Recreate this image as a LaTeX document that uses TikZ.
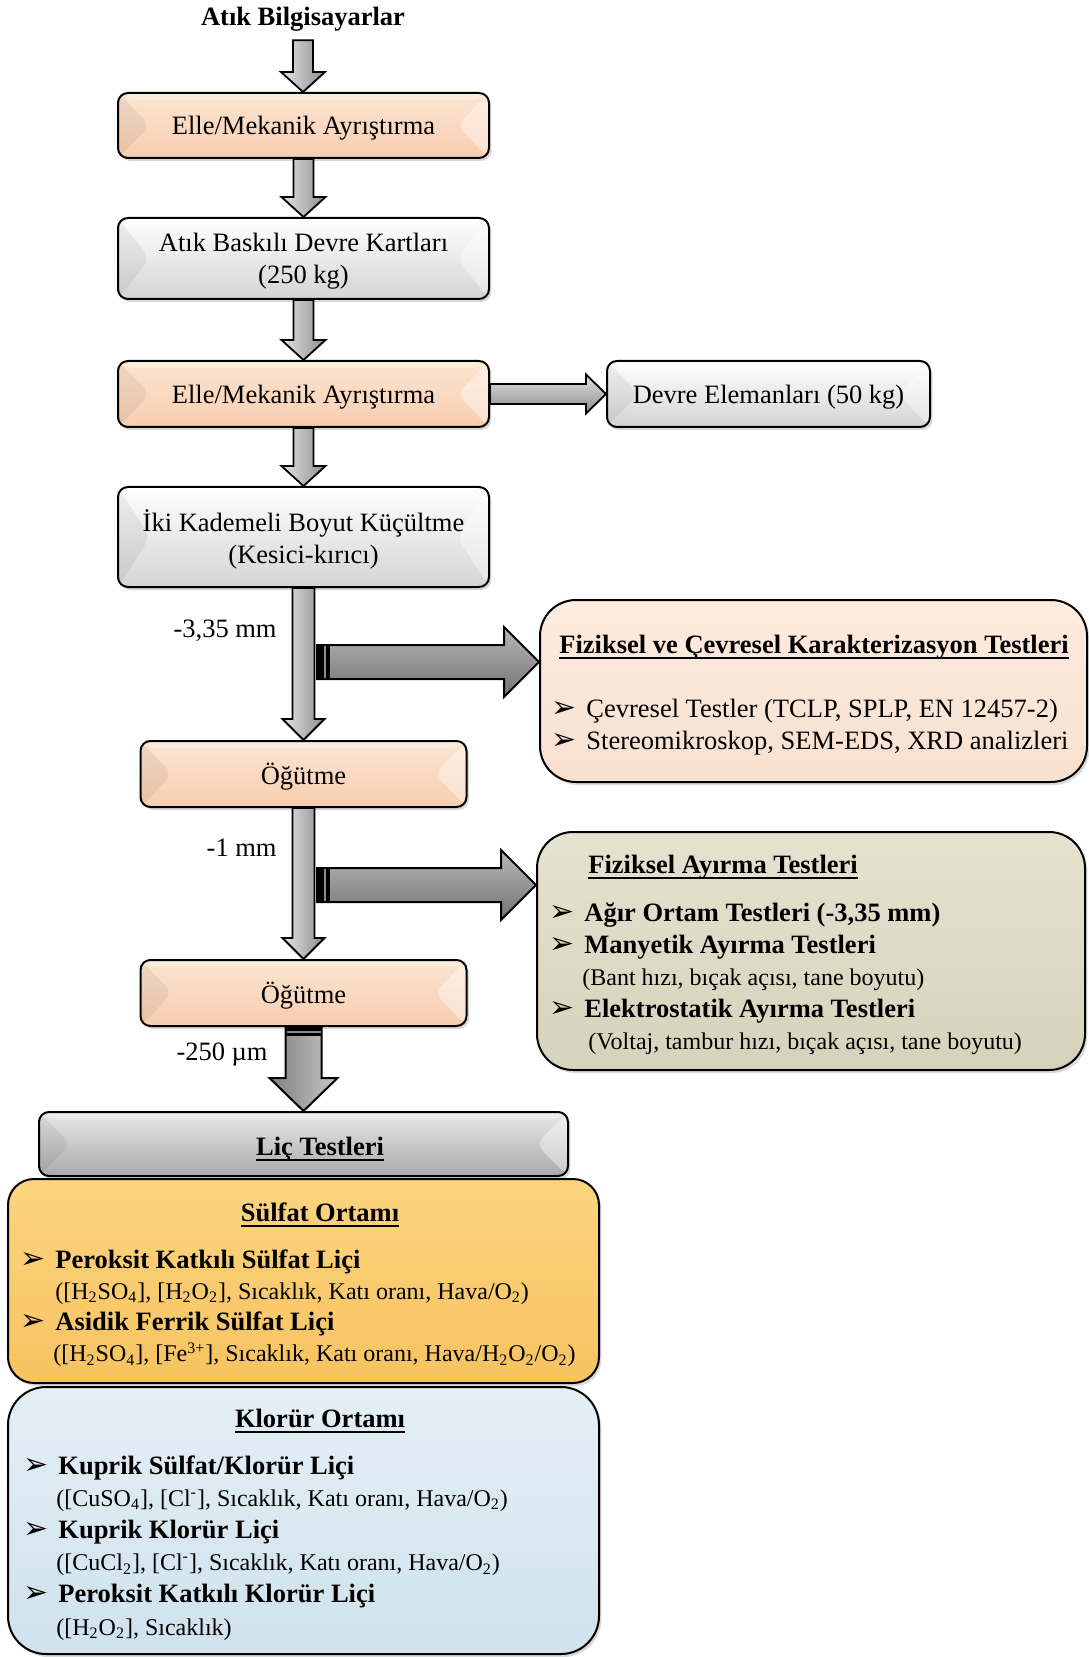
\documentclass[tikz,border=0pt]{standalone}
\usepackage{fontspec}
\setmainfont{Liberation Serif}
\newfontfamily\symfont{DejaVu Sans}
\usetikzlibrary{calc,shadows}

\definecolor{peachA}{RGB}{252,229,210}
\definecolor{peachB}{RGB}{247,205,174}
\definecolor{greyA}{RGB}{255,255,255}
\definecolor{greyB}{RGB}{212,212,212}
\definecolor{licA}{RGB}{232,232,232}
\definecolor{licB}{RGB}{170,170,170}
\definecolor{fcA}{RGB}{253,236,224}
\definecolor{fcB}{RGB}{248,224,206}
\definecolor{faA}{RGB}{229,226,207}
\definecolor{faB}{RGB}{215,210,187}
\definecolor{sulA}{RGB}{252,212,128}
\definecolor{sulB}{RGB}{247,195,96}
\definecolor{klA}{RGB}{228,239,245}
\definecolor{klB}{RGB}{208,226,236}

\newcommand\bodyfont{\fontsize{13.25}{16}\selectfont}
\newcommand\notefont{\fontsize{12}{14}\selectfont}
\newcommand\bul{\makebox[17.5pt][l]{\symfont\fontsize{15}{15}\selectfont ➢}}
\newlength\ulwd
\newcommand\ulined[1]{\settowidth\ulwd{#1}\rlap{\rule[-2.8pt]{\ulwd}{0.8pt}}#1}

% block arrows: [style](from)(to)(shaft half width:head half width:head length)
\def\varrow[#1](#2)(#3)(#4:#5:#6){\coordinate (vtip) at (#2 |- #3);
  \draw[#1] ($(#2)+(-#4,0)$) -- ($(#2)+(#4,0)$) -- ($(vtip)+(#4,-#6)$) -- ($(vtip)+(#5,-#6)$) -- (vtip) -- ($(vtip)+(-#5,-#6)$) -- ($(vtip)+(-#4,-#6)$) -- cycle;}
\def\harrow[#1](#2)(#3)(#4:#5:#6){\coordinate (htip) at (#3 |- #2);
  \draw[#1] ($(#2)+(0,-#4)$) -- ($(htip)+(-#6,-#4)$) -- ($(htip)+(-#6,-#5)$) -- (htip) -- ($(htip)+(-#6,#5)$) -- ($(htip)+(-#6,#4)$) -- ($(#2)+(0,#4)$) -- cycle;}

\tikzset{
  box/.style={draw=black, line width=1pt, rounded corners=5pt, inner sep=0pt,
    font=\bodyfont, align=center, text depth=0pt,
    drop shadow={shadow xshift=1.2pt, shadow yshift=-1.5pt, opacity=0.3}},
  bevel/.style={path picture={
    \fill[black,opacity=0.06] (path picture bounding box.north west) -- ($(path picture bounding box.west)+(#1,0)$) -- (path picture bounding box.south west) -- cycle;
    \fill[white,opacity=0.4] (path picture bounding box.north east) -- ($(path picture bounding box.east)+(-#1,0)$) -- (path picture bounding box.south east) -- cycle;
    \fill[white,opacity=0.3] (path picture bounding box.north west) -- (path picture bounding box.north east) -- ($(path picture bounding box.north east)+(-7,7)$) -- ($(path picture bounding box.north west)+(7,7)$) -- cycle;}},
  bevel/.default=32,
  peach/.style={top color=peachA, bottom color=peachB, bevel},
  grey/.style={top color=greyA, bottom color=greyB, bevel},
  lightv/.style={draw=black, line width=0.9pt, left color=black!10, right color=black!45},
  lighth/.style={draw=black, line width=0.9pt, top color=black!12, bottom color=black!45},
  darkh/.style={draw=black, line width=1pt, top color=black!28, bottom color=black!55},
  darkv/.style={draw=black, line width=1pt, left color=black!50, right color=black!22},
  lbl/.style={font=\bodyfont, inner sep=0pt},
  head/.style={font=\bodyfont\bfseries, inner sep=0pt, anchor=base},
  items/.style={inner sep=0pt, anchor=base west}
}

\begin{document}
\begin{tikzpicture}[x=0.5pt,y=-0.5pt]
  \useasboundingbox (0,0) rectangle (1088,1657);

  %%%%% main column %%%%%
  \node[head, inner sep=4pt] (title) at (303,26) {Atık Bilgisayarlar};
  \node[box, peach, minimum width=185.5pt, minimum height=32.5pt] (elle1) at (303.5,125.5) {Elle/Mekanik Ayrıştırma};
  \node[box, grey, minimum width=185.5pt, minimum height=40.5pt] (kart) at (303.5,258.5) {Atık Baskılı Devre Kartları\\(250 kg)};
  \node[box, peach, minimum width=185.5pt, minimum height=33pt] (elle2) at (303.5,394) {Elle/Mekanik Ayrıştırma};
  \node[box, grey, minimum width=161.5pt, minimum height=33pt] (devre) at (768.5,394) {Devre Elemanları (50 kg)};
  \node[box, grey, minimum width=185.5pt, minimum height=50pt] (boyut) at (303.5,537) {İki Kademeli Boyut Küçültme\\(Kesici-kırıcı)};
  \node[box, peach, minimum width=163pt, minimum height=33pt] (ogut1) at (303.5,774) {Öğütme};
  \node[box, peach, minimum width=163pt, minimum height=33pt] (ogut2) at (303.5,993) {Öğütme};

  %%%%% test boxes on the right %%%%%
  \node[box, rounded corners=18pt, top color=fcA, bottom color=fcB, minimum width=273.5pt, minimum height=91pt] (fizcev) at (813.5,691) {};
  \node[head] (fizcevHead) at (814,653) {\ulined{Fiziksel ve Çevresel Karakterizasyon Testleri}};
  \node[items, font=\bodyfont] (fizcevList) at (551,717) {\begin{tabular}[t]{@{}l@{}}
    \bul Çevresel Testler (TCLP, SPLP, EN 12457-2)\\
    \bul Stereomikroskop, SEM-EDS, XRD analizleri
  \end{tabular}};

  \node[box, rounded corners=18pt, top color=faA, bottom color=faB, minimum width=274pt, minimum height=119pt] (fizay) at (811,951) {};
  \node[head, anchor=base west] (fizayHead) at (588,873) {\ulined{Fiziksel Ayırma Testleri}};
  \node[items, font=\bodyfont] (fizayList) at (549,921) {\begin{tabular}[t]{@{}l@{}}
    \bul\textbf{Ağır Ortam Testleri (-3,35 mm)}\\
    \bul\textbf{Manyetik Ayırma Testleri}\\
    \hspace*{16.5pt}{\notefont(Bant hızı, bıçak açısı, tane boyutu)}\\
    \bul\textbf{Elektrostatik Ayırma Testleri}\\
    \hspace*{19.5pt}{\notefont(Voltaj, tambur hızı, bıçak açısı, tane boyutu)}
  \end{tabular}};

  %%%%% leaching %%%%%
  \node[box, top color=licA, bottom color=licB, bevel, minimum width=264.5pt, minimum height=32pt] (lic) at (303.5,1144) {};
  \node[head] (licHead) at (320,1155) {\ulined{Liç Testleri}};

  \node[box, rounded corners=13pt, top color=sulA, bottom color=sulB, minimum width=295.5pt, minimum height=102pt] (sulfat) at (303.5,1281) {};
  \node[head] (sulfatHead) at (320,1221) {\ulined{Sülfat Ortamı}};
  \node[items, font=\fontsize{13.25}{15.65}\selectfont] (sulfatList) at (20,1268) {\begin{tabular}[t]{@{}l@{}}
    \bul\textbf{Peroksit Katkılı Sülfat Liçi}\\
    \hspace*{17.5pt}{\notefont([H\textsubscript{2}SO\textsubscript{4}], [H\textsubscript{2}O\textsubscript{2}], Sıcaklık, Katı oranı, Hava/O\textsubscript{2})}\\
    \bul\textbf{Asidik Ferrik Sülfat Liçi}\\
    \hspace*{16.5pt}{\notefont([H\textsubscript{2}SO\textsubscript{4}], [Fe\textsuperscript{3+}], Sıcaklık, Katı oranı, Hava/H\textsubscript{2}O\textsubscript{2}/O\textsubscript{2})}
  \end{tabular}};

  \node[box, rounded corners=19pt, top color=klA, bottom color=klB, minimum width=295.5pt, minimum height=133.5pt] (klorur) at (303.5,1520.5) {};
  \node[head] (klorurHead) at (320,1427) {\ulined{Klorür Ortamı}};
  \node[items, font=\fontsize{13.25}{16.1}\selectfont] (klorurList) at (23,1474) {\begin{tabular}[t]{@{}l@{}}
    \bul\textbf{Kuprik Sülfat/Klorür Liçi}\\
    \hspace*{16.5pt}{\notefont([CuSO\textsubscript{4}], [Cl\textsuperscript{-}], Sıcaklık, Katı oranı, Hava/O\textsubscript{2})}\\
    \bul\textbf{Kuprik Klorür Liçi}\\
    \hspace*{16.5pt}{\notefont([CuCl\textsubscript{2}], [Cl\textsuperscript{-}], Sıcaklık, Katı oranı, Hava/O\textsubscript{2})}\\
    \bul\textbf{Peroksit Katkılı Klorür Liçi}\\
    \hspace*{16.5pt}{\notefont([H\textsubscript{2}O\textsubscript{2}], Sıcaklık)}
  \end{tabular}};

  %%%%% arrows %%%%%
  \varrow[lightv](title.south)(elle1.north)(10:22:20)
  \varrow[lightv](elle1.south)(kart.north)(10:22:20)
  \varrow[lightv](kart.south)(elle2.north)(10:22:20)
  \harrow[lighth](elle2.east)(devre.west)(10:19.5:20)
  \varrow[lightv](elle2.south)(boyut.north)(10:22:20)
  \varrow[lightv](boyut.south)(ogut1.north)(11:21:21)
  \varrow[lightv](ogut1.south)(ogut2.north)(11:21:21)

  \coordinate (k1) at (317,662);
  \coordinate (k2) at (317,885);
  \harrow[darkh](k1)(fizcev.west)(17:35:35)
  \harrow[darkh](k2)(fizay.west)(17:35:35)
  \fill[black] ($(k1)+(0,-17)$) rectangle ($(k1)+(13,17)$);
  \draw[black!45, line width=0.8pt] ($(k1)+(8,-16)$) -- ($(k1)+(8,16)$);
  \fill[black] ($(k2)+(0,-17)$) rectangle ($(k2)+(13,17)$);
  \draw[black!45, line width=0.8pt] ($(k2)+(8,-16)$) -- ($(k2)+(8,16)$);

  \varrow[darkv](ogut2.south)(lic.north)(18:34:33)
  \fill[black] ($(ogut2.south)+(-18,0)$) rectangle ($(ogut2.south)+(18,9)$);
  \draw[black!45, line width=0.8pt] ($(ogut2.south)+(-17,5)$) -- ($(ogut2.south)+(17,5)$);

  \node[lbl, anchor=base east] (size1) at (277,637) {-3,35 mm};
  \node[lbl, anchor=base east] (size2) at (277,856) {-1 mm};
  \node[lbl, anchor=base east] (size3) at (268,1060) {-250 µm};
\end{tikzpicture}
\end{document}
